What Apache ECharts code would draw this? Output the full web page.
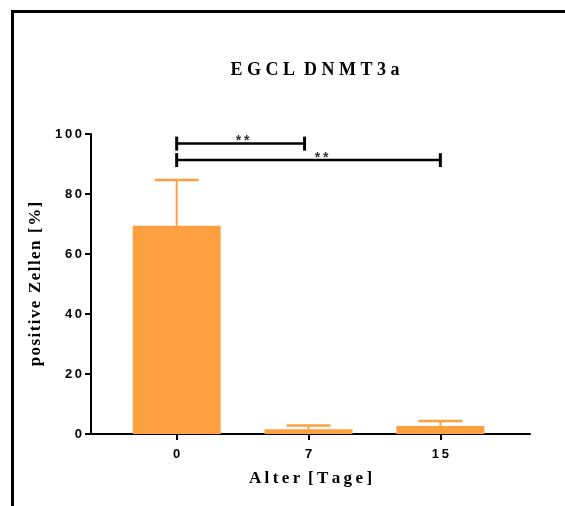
<!DOCTYPE html>
<html><head><meta charset="utf-8">
<script src="https://cdn.jsdelivr.net/npm/echarts@6/dist/echarts.min.js"></script>
<style>html,body{margin:0;padding:0;background:#fff}#c{width:565px;height:506px}</style>
</head><body><div id="c"></div>
<script>
// ---- data ----
const categories = ['0', '7', '15'];
const means = [69.4, 1.6, 2.7];
const errors = [15.3, 1.2, 1.6];
// significance brackets: from position, to position, height, label, label position
const bracketFrom = [0, 0];
const bracketTo = [0.97, 2];
const bracketY = [96.8, 91.3];
const bracketLabels = ['**', '**'];
const bracketLabelX = [0.5, 1.1];

const orange = '#ffa040';
const spaced = s => s.split('').join('\u2009');
const letterSpaced = (s, sp, wsp) => s.split(' ').map(w => w.split('').join(sp)).join(wsp);

const chart = echarts.init(document.getElementById('c'), null, {renderer: 'canvas'});
const barData = means.map((m, i) => [i, m]);
const errData = means.map((m, i) => [i, m, m + errors[i]]);
const brData = bracketFrom.map((f, i) => [f, bracketTo[i], bracketY[i], bracketLabelX[i], bracketLabels[i]]);

chart.setOption({
  animation: false,
  backgroundColor: '#fff',
  title: {
    text: letterSpaced('EGCL DNMT3a', ' ', '  '),
    left: 310, top: 56, textAlign: 'center',
    textStyle: {fontFamily: 'Liberation Serif', fontWeight: 'bold', fontSize: 18, color: '#000'}
  },
  grid: {left: 91, right: 35, top: 134, bottom: 72, containLabel: false, outerBoundsMode: 'none'},
  xAxis: {
    type: 'value', min: -0.65, max: 2.68,
    splitLine: {show: false},
    axisLine: {show: true, onZero: false, lineStyle: {color: '#000', width: 2}},
    axisTick: {show: true, customValues: [0, 1, 2], length: 6, lineStyle: {color: '#000', width: 2}},
    axisLabel: {customValues: [0, 1, 2], formatter: v => spaced(categories[Math.round(v)]), margin: 14,
      fontFamily: 'Liberation Sans', fontWeight: 'bold', fontSize: 13, color: '#000'},
    name: letterSpaced('Alter [Tage]', '\u2009', ' \u2009'), nameLocation: 'middle', nameGap: 36,
    nameTextStyle: {fontFamily: 'Liberation Serif', fontWeight: 'bold', fontSize: 17, color: '#000'}
  },
  yAxis: {
    type: 'value', min: 0, max: 100, interval: 20,
    splitLine: {show: false},
    axisLine: {show: true, onZero: false, lineStyle: {color: '#000', width: 2}},
    axisTick: {show: true, length: 6, lineStyle: {color: '#000', width: 2}},
    axisLabel: {formatter: v => spaced(String(v)), margin: 9,
      fontFamily: 'Liberation Sans', fontWeight: 'bold', fontSize: 13, color: '#000'},
    name: letterSpaced('positive Zellen [%]', '\u200a', ' \u2009'), nameLocation: 'middle', nameGap: 44,
    nameTextStyle: {fontFamily: 'Liberation Serif', fontWeight: 'bold', fontSize: 17, color: '#000'}
  },
  graphic: [
    {type: 'line', shape: {x1: 12.5, y1: 10, x2: 12.5, y2: 506}, style: {stroke: '#000', lineWidth: 3}},
    {type: 'line', shape: {x1: 11, y1: 11.5, x2: 565, y2: 11.5}, style: {stroke: '#000', lineWidth: 3}}
  ],
  series: [
    {
      type: 'custom', name: 'err', z: 1,
      data: errData,
      renderItem: (params, api) => {
        const base = api.coord([api.value(0), api.value(1)]);
        const top = api.coord([api.value(0), api.value(2)]);
        const hw = 22;
        return {type: 'group', children: [
          {type: 'line', shape: {x1: base[0], y1: base[1], x2: top[0], y2: top[1]}, style: {stroke: orange, lineWidth: 2}},
          {type: 'line', shape: {x1: top[0] - hw, y1: top[1], x2: top[0] + hw, y2: top[1]}, style: {stroke: orange, lineWidth: 2.5}}
        ]};
      }
    },
    {
      type: 'bar', z: 2, data: barData, barWidth: 88,
      itemStyle: {color: orange}
    },
    {
      type: 'custom', name: 'sig', z: 3,
      data: brData,
      renderItem: (params, api) => {
        const a = api.coord([api.value(0), api.value(2)]);
        const b = api.coord([api.value(1), api.value(2)]);
        const l = api.coord([api.value(3), api.value(2)]);
        const h = 7;
        const lbl = brData[params.dataIndex][4];
        return {type: 'group', children: [
          {type: 'line', shape: {x1: a[0], y1: a[1], x2: b[0], y2: b[1]}, style: {stroke: '#000', lineWidth: 2.5}},
          {type: 'line', shape: {x1: a[0], y1: a[1] - h, x2: a[0], y2: a[1] + h}, style: {stroke: '#000', lineWidth: 3}},
          {type: 'line', shape: {x1: b[0], y1: b[1] - h, x2: b[0], y2: b[1] + h}, style: {stroke: '#000', lineWidth: 3}},
          {type: 'text', x: l[0], y: a[1] - 9,
            style: {text: spaced(lbl), fill: '#333', font: 'bold 14px "Liberation Sans"', align: 'center', verticalAlign: 'top'}}
        ]};
      }
    }
  ]
});
</script></body></html>
